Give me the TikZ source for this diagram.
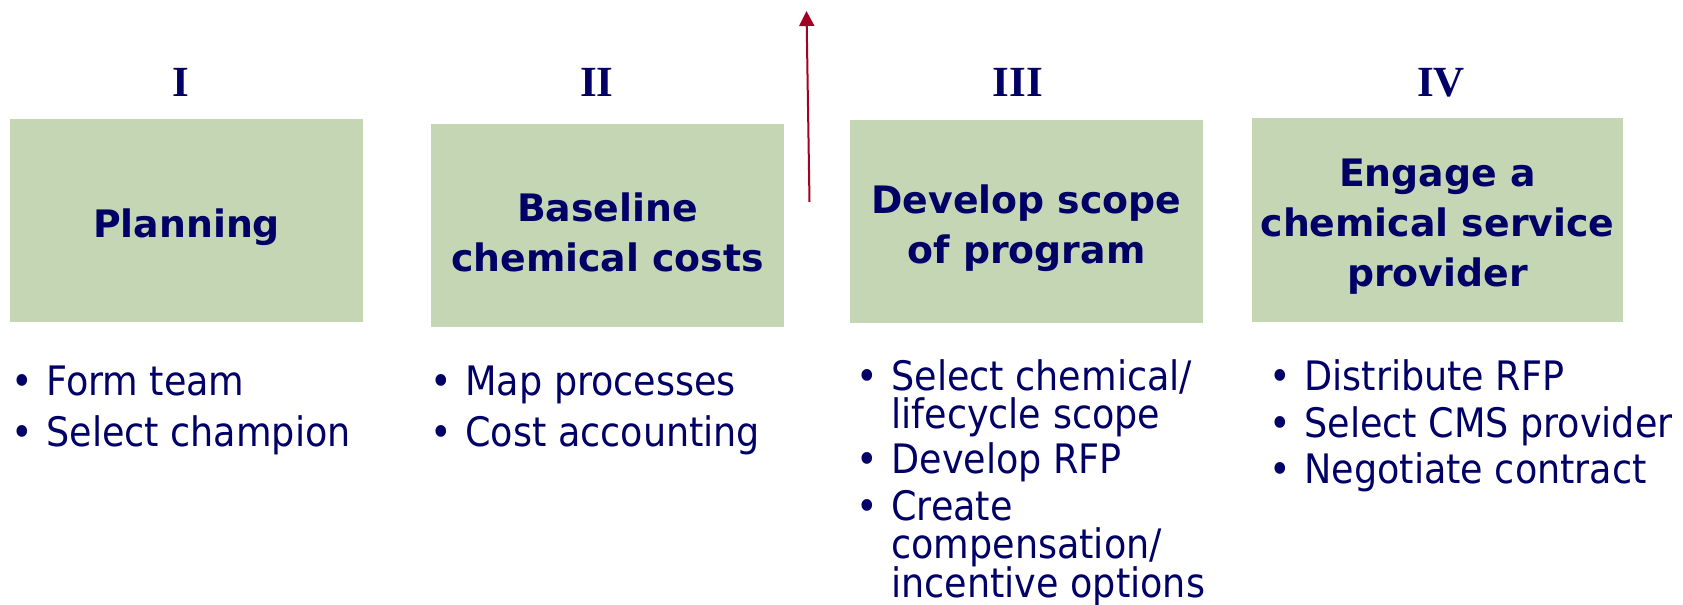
\documentclass[tikz,border=0pt]{standalone}
\usepackage{fontspec}
\setmainfont{DejaVu Sans Condensed}
\newfontfamily\boxfont{DejaVu Sans}
\newfontfamily\numfont{Liberation Serif}
\usetikzlibrary{arrows.meta}
\definecolor{navy}{RGB}{0,0,102}
\definecolor{boxgreen}{RGB}{196,214,180}
\definecolor{arrowred}{RGB}{164,0,33}
\newcommand{\bul}{\makebox[17.5pt][l]{\textbullet}}
\newcommand{\lines}[1]{\vtop{\baselineskip=19.3pt\lineskiplimit=-\maxdimen\lineskip=0pt #1}}
\begin{document}
\begin{tikzpicture}[x=0.5pt,y=-0.5pt,
  stagebox/.style={fill=boxgreen, draw=none, inner sep=0pt},
  stagetitle/.style={inner sep=0pt, align=center, text=navy, yshift=-3.5pt,
    font=\boxfont\bfseries\fontsize{18.9}{25}\selectfont},
  numeral/.style={anchor=base, inner sep=0pt, text=navy, font=\numfont\bfseries\fontsize{21.5}{26}\selectfont},
  itm/.style={anchor=base west, inner sep=0pt, text=navy, font=\fontsize{20.3}{19.3}\selectfont},
  uparrow/.style={draw=arrowred, line width=1pt, -{Triangle[length=7.5pt,width=7.5pt]}}]
\path[use as bounding box] (0,0) rectangle (1683,605);

% stage boxes
\node[stagebox, minimum width=176.5pt, minimum height=101.5pt] (b1) at (186.5,220.5) {};
\node[stagebox, minimum width=176.5pt, minimum height=101.5pt] (b2) at (607.5,225.5) {};
\node[stagebox, minimum width=176.5pt, minimum height=101.5pt] (b3) at (1026.5,221.5) {};
\node[stagebox, minimum width=185.5pt, minimum height=102pt] (b4) at (1437.5,220) {};
\node[stagetitle] (t1) at (b1.center) {Planning};
\node[stagetitle] (t2) at (b2.center) {Baseline\\chemical costs};
\node[stagetitle] (t3) at (b3.center) {Develop scope\\of program};
\node[stagetitle] (t4) at (b4.center) {Engage a\\chemical service\\provider};

% numerals
\node[numeral] (n1) at (181,96) {I};
\node[numeral] (n2) at (597,96) {II};
\node[numeral] (n3) at (1018,96) {III};
\node[numeral] (n4) at (1441,96) {IV};

% arrow
\coordinate (a0) at (809.5,202);
\coordinate (a1) at (806.5,11);
\draw[uparrow] (a0) -- (a1);

% column 1
\node[itm] (c1a) at (11,395) {\bul Form team};
\node[itm] (c1b) at (11,446) {\bul Select champion};
% column 2
\node[itm] (c2a) at (430,395) {\bul Map processes};
\node[itm] (c2b) at (430,446) {\bul Cost accounting};
% column 3
\node[itm] (c3a) at (856,390) {\bul\lines{\hbox{Select chemical/}\hbox{lifecycle scope}}};
\node[itm] (c3b) at (856,473) {\bul Develop RFP};
\node[itm] (c3c) at (856,520) {\bul\lines{\hbox{Create}\hbox{compensation/}\hbox{incentive options}}};
% column 4
\node[itm] (c4a) at (1269,390) {\bul Distribute RFP};
\node[itm] (c4b) at (1269,437) {\bul Select CMS provider};
\node[itm] (c4c) at (1269,483) {\bul Negotiate contract};
\end{tikzpicture}
\end{document}
